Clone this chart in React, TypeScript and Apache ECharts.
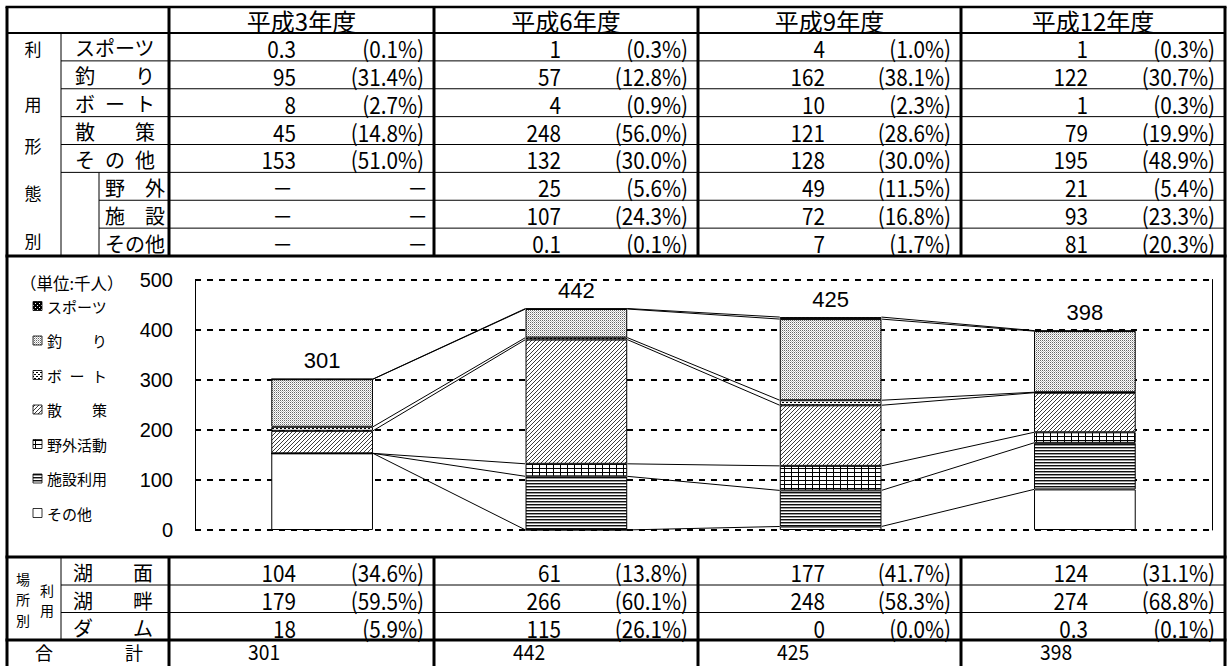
import React, { useEffect, useRef } from 'react';
import * as echarts from 'echarts';

// ---------- data ----------
const years = ['平成3年度', '平成6年度', '平成9年度', '平成12年度'];

const sports = [0.3, 1, 4, 1];
const sportsPct = [0.1, 0.3, 1.0, 0.3];
const fishing = [95, 57, 162, 122];
const fishingPct = [31.4, 12.8, 38.1, 30.7];
const boat = [8, 4, 10, 1];
const boatPct = [2.7, 0.9, 2.3, 0.3];
const walk = [45, 248, 121, 79];
const walkPct = [14.8, 56.0, 28.6, 19.9];
const otherTotal = [153, 132, 128, 195];
const otherTotalPct = [51.0, 30.0, 30.0, 48.9];
const outdoor = [null, 25, 49, 21];
const outdoorPct = [null, 5.6, 11.5, 5.4];
const facility = [null, 107, 72, 93];
const facilityPct = [null, 24.3, 16.8, 23.3];
const otherSub = [null, 0.1, 7, 81];
const otherSubPct = [null, 0.1, 1.7, 20.3];

const lakeSurface = [104, 61, 177, 124];
const lakeSurfacePct = [34.6, 13.8, 41.7, 31.1];
const lakeside = [179, 266, 248, 274];
const lakesidePct = [59.5, 60.1, 58.3, 68.8];
const dam = [18, 115, 0, 0.3];
const damPct = [5.9, 26.1, 0.0, 0.1];
const totals = [301, 442, 425, 398];

const topRowLabels = ['スポーツ', '釣　　り', 'ボ\u2002ー\u2002ト', '散　　策', 'そ\u2002の\u2002他', '野　外', '施　設', 'その他'];
const bottomRowLabels = ['湖　　面', '湖　　畔', 'ダ　　ム'];
const totalLabel = '合　　　　計';
const legendLabels = ['スポーツ', '釣　　り', 'ボ\u2002ー\u2002ト', '散　　策', '野外活動', '施設利用', 'その他'];
const unitLabel = '（単位:千人）';
const yMin = 0;
const yMax = 500;
const yInterval = 100;

// ---------- styling ----------
const JP = '"Noto Sans CJK JP", "Noto Sans", sans-serif';
const AR = '"Liberation Sans", Arial, sans-serif';

function tile(w: number, h: number, bg: string, draw: (ctx: CanvasRenderingContext2D) => void) {
  const c = document.createElement('canvas');
  c.width = w;
  c.height = h;
  const ctx = c.getContext('2d')!;
  ctx.fillStyle = bg;
  ctx.fillRect(0, 0, w, h);
  draw(ctx);
  return { image: c.toDataURL(), repeat: 'repeat', imageWidth: w, imageHeight: h } as any;
}

function buildOption() {
  const pat = {
    sports: tile(4, 4, '#000', (ctx) => {
      ctx.fillStyle = '#fff';
      ctx.fillRect(1, 1, 1, 1);
      ctx.fillRect(3, 3, 1, 1);
    }),
    fishing: tile(2, 2, '#fff', (ctx) => {
      ctx.fillStyle = '#666';
      ctx.fillRect(0, 0, 1, 1);
      ctx.fillStyle = '#bdbdbd';
      ctx.fillRect(1, 1, 1, 1);
    }),
    boat: tile(4, 4, '#fff', (ctx) => {
      ctx.fillStyle = '#000';
      ctx.fillRect(0, 0, 2, 1);
      ctx.fillRect(2, 2, 2, 1);
    }),
    walk: tile(4, 4, '#fff', (ctx) => {
      ctx.fillStyle = '#3c3c3c';
      for (let k = 0; k < 4; k++) ctx.fillRect(3 - k, k, 1, 1);
    }),
    outdoor: tile(7, 4, '#fff', (ctx) => {
      ctx.fillStyle = '#000';
      ctx.fillRect(0, 0, 7, 1);
      ctx.fillRect(0, 0, 1, 4);
    }),
    facility: tile(1, 3, '#fff', (ctx) => {
      ctx.fillStyle = '#111';
      ctx.fillRect(0, 0, 1, 1);
      ctx.fillStyle = '#999';
      ctx.fillRect(0, 1, 1, 1);
    }),
    other: '#ffffff',
  };

  // stack order bottom -> top
  const chartOther = otherSub.map((v, i) => (v == null ? otherTotal[i] : v));
  const chartFacility = facility.map((v) => (v == null ? 0 : v));
  const chartOutdoor = outdoor.map((v) => (v == null ? 0 : v));
  const stack = [
    { name: legendLabels[6], data: chartOther, fill: pat.other },
    { name: legendLabels[5], data: chartFacility, fill: pat.facility },
    { name: legendLabels[4], data: chartOutdoor, fill: pat.outdoor },
    { name: legendLabels[3], data: walk, fill: pat.walk },
    { name: legendLabels[2], data: boat, fill: pat.boat },
    { name: legendLabels[1], data: fishing, fill: pat.fishing },
    { name: legendLabels[0], data: sports, fill: pat.sports },
  ];
  const cum: number[][] = [];
  stack.forEach((s, si) => {
    cum.push(s.data.map((v, i) => v + (si > 0 ? cum[si - 1][i] : 0)));
  });

  const barWidthRatio = 0.4;
  const barSeries = stack.map((s, si) => ({
    type: 'bar',
    name: s.name,
    stack: 'all',
    barWidth: barWidthRatio * 100 + '%',
    data: s.data,
    itemStyle: { color: s.fill, borderColor: '#000', borderWidth: 1 },
    label:
      si === stack.length - 1
        ? {
            show: true,
            position: 'top',
            distance: 7,
            formatter: (p: any) => String(totals[p.dataIndex]),
            fontSize: 22,
            fontFamily: AR,
            color: '#000',
          }
        : { show: false },
    silent: true,
    z: 2,
  }));

  const lineData: number[][] = [];
  for (let s = 0; s < stack.length; s++) for (let i = 0; i < years.length - 1; i++) lineData.push([i, s]);
  const seriesLines = {
    type: 'custom',
    name: 'series-lines',
    silent: true,
    clip: false,
    z: 3,
    data: lineData,
    encode: { x: 0, y: 1 },
    renderItem: (params: any, api: any) => {
      const i = api.value(0);
      const s = api.value(1);
      const bw = api.size([1, 0])[0] * barWidthRatio;
      const p1 = api.coord([i, cum[s][i]]);
      const p2 = api.coord([i + 1, cum[s][i + 1]]);
      return {
        type: 'line',
        shape: { x1: p1[0] + bw / 2, y1: p1[1], x2: p2[0] - bw / 2, y2: p2[1] },
        style: { stroke: '#000', lineWidth: 1 },
      };
    },
  };

  // ---------- table graphic ----------
  const g: any[] = [];
  const T = (text: string, x: number, y: number, o: any = {}) =>
    g.push({
      type: 'text',
      x,
      y,
      scaleX: o.sx ?? 1,
      silent: true,
      z: 100,
      style: {
        text,
        fill: '#000',
        fontSize: o.size ?? 20,
        fontFamily: o.font ?? JP,
        align: o.align ?? 'left',
        verticalAlign: 'middle',
        lineHeight: o.lh,
      },
    });
  const L = (x1: number, y1: number, x2: number, y2: number, w = 1) =>
    g.push({ type: 'line', silent: true, z: 100, shape: { x1, y1, x2, y2 }, style: { stroke: '#000', lineWidth: w } });

  const xL = 7, xA = 61, xSub = 99, xB = 169, xR = 1225;
  const colX = [xB, 434, 698, 961, xR];
  const yTop = 7, yHead = 33, yChartTop = 256, yChartBot = 557;
  const rowH = (yChartTop - yHead) / 8;
  const bRows = [557, 585, 612.5, 640, 668];
  const TH = 3;
  const NUM = { size: 23, sx: 0.9, align: 'right' };

  // outer + thick lines
  L(xL - 1.5, yTop, xR + 1.5, yTop, 2.5);
  L(xL, yTop, xL, 668, TH);
  L(xR, yTop, xR, 668, TH);
  L(xL, yHead, xR, yHead, 2);
  colX.slice(0, 4).forEach((x) => {
    L(x, yTop, x, yChartTop, TH);
    L(x, yChartBot, x, 668, TH);
  });
  L(xL - 1.5, yChartTop, xR + 1.5, yChartTop, TH);
  L(xL - 1.5, yChartBot, xR + 1.5, yChartBot, TH);
  L(xL - 1.5, bRows[3], xR + 1.5, bRows[3], TH);
  // thin lines top table
  L(xA, yHead, xA, yChartTop, 1);
  L(xSub, yHead + 5 * rowH, xSub, yChartTop, 1);
  for (let r = 1; r < 8; r++) {
    const y = yHead + r * rowH;
    L(r <= 5 ? xA : xSub, y, xR, y, 1);
  }
  // thin lines bottom table
  L(xA, bRows[0], xA, bRows[3], 1);
  L(xA, bRows[1], xR, bRows[1], 1);
  L(xA, bRows[2], xR, bRows[2], 1);

  // headers
  years.forEach((yv, i) => T(yv, (colX[i] + colX[i + 1]) / 2, 20, { size: 24, align: 'center' }));

  // vertical labels
  const vA = ['利', '用', '形', '態', '別'];
  const vAy = [48, 103, 145, 192, 240];
  vA.forEach((c, k) => T(c, 33, vAy[k], { size: 17, align: 'center' }));
  T('場\n所\n別', 23, 599, { size: 14, align: 'center', lh: 20.5 });
  T('利\n用', 47, 600, { size: 14, align: 'center', lh: 20.5 });

  const fmtV = (v: number | null) => (v == null ? '－' : String(v));
  const fmtP = (v: number | null) => (v == null ? '－' : '(' + v.toFixed(1) + '%)');

  const topVals = [sports, fishing, boat, walk, otherTotal, outdoor, facility, otherSub];
  const topPcts = [sportsPct, fishingPct, boatPct, walkPct, otherTotalPct, outdoorPct, facilityPct, otherSubPct];
  topRowLabels.forEach((lab, r) => {
    const yc = yHead + (r + 0.5) * rowH + 1;
    T(lab, r < 5 ? 75 : 105, yc, { size: 20 });
    for (let i = 0; i < 4; i++) {
      const v = topVals[r][i];
      const p = topPcts[r][i];
      T(fmtV(v), colX[i] + (v == null ? 124 : 127), yc, NUM);
      T(fmtP(p), colX[i + 1] - (p == null ? 6 : 10), yc, NUM);
    }
  });

  const botVals = [lakeSurface, lakeside, dam];
  const botPcts = [lakeSurfacePct, lakesidePct, damPct];
  bottomRowLabels.forEach((lab, r) => {
    const yc = (bRows[r] + bRows[r + 1]) / 2 + 1.5;
    T(lab, 73, yc, { size: 20 });
    for (let i = 0; i < 4; i++) {
      T(fmtV(botVals[r][i]), colX[i] + 127, yc, NUM);
      T(fmtP(botPcts[r][i]), colX[i + 1] - 10, yc, NUM);
    }
  });
  T(totalLabel, 35, 652, { size: 18 });
  totals.forEach((v, i) => T(String(v), colX[i] + 79, 651, { size: 21, sx: 0.92 }));

  // legend (unit + pattern keys)
  T(unitLabel, 20, 282.5, { size: 16.5 });
  const legendFills = [pat.sports, pat.fishing, pat.boat, pat.walk, pat.outdoor, pat.facility, pat.other];
  legendLabels.forEach((lab, k) => {
    const yc = 306 + k * 34.5;
    g.push({
      type: 'rect',
      silent: true,
      z: 100,
      shape: { x: 33, y: yc - 4.5, width: 9, height: 9 },
      style: { fill: legendFills[k], stroke: '#000', lineWidth: 0.8 },
    });
    T(lab, 47, yc, { size: 15 });
  });

  return {
    animation: false,
    backgroundColor: '#ffffff',
    grid: { left: 195, right: 1227 - 1212, top: 279.5, bottom: 136, containLabel: false },
    xAxis: {
      type: 'category',
      data: years,
      axisLine: { show: false },
      axisTick: { show: false },
      axisLabel: { show: false },
      splitLine: { show: false },
    },
    yAxis: [
      {
        type: 'value',
        min: yMin,
        max: yMax,
        interval: yInterval,
        axisLine: { show: true, lineStyle: { color: '#000', width: 1 } },
        axisTick: { show: false },
        axisLabel: { color: '#000', fontSize: 20, fontFamily: AR, margin: 22 },
        splitLine: { show: true, lineStyle: { color: '#000', width: 2, type: [6, 6] } },
      },
      {
        type: 'value',
        position: 'right',
        min: yMin,
        max: yMax,
        interval: yInterval,
        axisLine: { show: true, lineStyle: { color: '#000', width: 1 } },
        axisTick: { show: false },
        axisLabel: { show: false },
        splitLine: { show: false },
      },
    ],
    series: [...barSeries, seriesLines],
    graphic: g,
  };
}

export default function App() {
  const ref = useRef<HTMLDivElement>(null);
  useEffect(() => {
    document.body.style.margin = '0';
    const chart = echarts.init(ref.current!, null, { renderer: 'svg' });
    chart.setOption(buildOption() as any);
    return () => chart.dispose();
  }, []);
  return <div ref={ref} style={{ width: 1227, height: 666 }} />;
}
